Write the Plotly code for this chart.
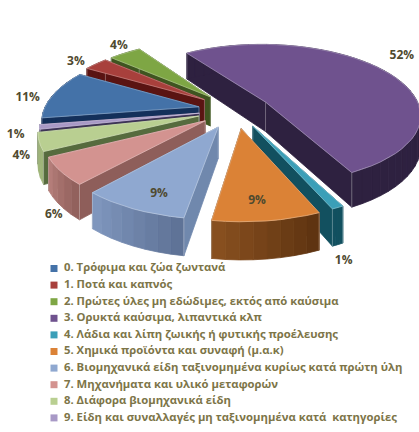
import math
import plotly.graph_objects as go

categories = ["0. Τρόφιμα και ζώα ζωντανά", "1. Ποτά και καπνός",
              "2. Πρώτες ύλες μη εδώδιμες, εκτός από καύσιμα",
              "3. Ορυκτά καύσιμα, λιπαντικά κλπ",
              "4. Λάδια και λίπη ζωικής ή φυτικής προέλευσης",
              "5. Χημικά προϊόντα και συναφή (μ.α.κ)",
              "6. Βιομηχανικά είδη ταξινομημένα κυρίως κατά πρώτη ύλη",
              "7. Μηχανήματα και υλικό μεταφορών",
              "8. Διάφορα βιομηχανικά είδη",
              "9. Είδη και συναλλαγές μη ταξινομημένα κατά  κατηγορίες"]
values = [11, 3, 4, 52, 1, 9, 9, 6, 4, 1]

top_colors = ["#4472a8", "#a8403c", "#7ea644", "#6f528e", "#3b9fb8",
              "#db8236", "#8fa8d0", "#d39390", "#b9cf91", "#a899c6"]
radial_colors = ["#14305a", "#5a1412", "#3f5520", "#2e2140", "#12505f",
                 "#6a3a12", "#7088ad", "#8e5e5a", "#566b3e", "#3d3357"]
outer_left = ["#14305a", "#5a1412", "#3f5520", "#2e2140", "#12505f",
              "#8a5120", "#8199c0", "#b8807c", "#9fb57a", "#8d80ab"]
outer_right = ["#14305a", "#5a1412", "#3f5520", "#2e2140", "#12505f",
               "#5c3210", "#5d7094", "#8e5e5a", "#9fb57a", "#8d80ab"]
pulls = [38, 40, 40, 35, 38, 40, 40, 38, 39, 37]
label_dx = [-26, -20, -6, 18, 6, -10, 26, -7, -18, -24]
label_dy = [4, -2, -7, -15, 53, -20, -15, 44, 14, 8]

ROT, R, K, Q, H = 261.0, 155.0, 70.0, 0.17, 30.0
CX, CY = 236.0, 110.0


def project(theta, r, pull, mid, drop=0.0):
    u = pull * math.sin(mid) + r * math.sin(theta)
    v = pull * math.cos(mid) + r * math.cos(theta)
    s = 1 / (1 + Q * v / R)
    return CX + u * s, CY - (K / R) * v * s + drop * s


def mix(a, b, t):
    ca = [int(a[i:i + 2], 16) for i in (1, 3, 5)]
    cb = [int(b[i:i + 2], 16) for i in (1, 3, 5)]
    return "rgb(%d,%d,%d)" % tuple(round(x + (y - x) * t) for x, y in zip(ca, cb))


fig = go.Figure()


def poly(points, color, line=None):
    closed = list(points) + [points[0]]
    fig.add_trace(go.Scatter(x=[p[0] for p in closed], y=[p[1] for p in closed],
                             mode="lines", fill="toself", fillcolor=color,
                             line=dict(color=line or color, width=0.8),
                             hoverinfo="skip", showlegend=False))


def edge(a, b, color):
    fig.add_trace(go.Scatter(x=[a[0], b[0]], y=[a[1], b[1]], mode="lines",
                             line=dict(color=color, width=0.8),
                             hoverinfo="skip", showlegend=False))


total = sum(values)
slices, cum = [], 0
for i, val in enumerate(values):
    a0 = math.radians(ROT + cum / total * 360)
    cum += val
    a1 = math.radians(ROT + cum / total * 360)
    slices.append((i, a0, a1, (a0 + a1) / 2))

for i, a0, a1, mid in sorted(slices, key=lambda t: -math.cos(t[3])):
    p = pulls[i]
    n = max(3, int((a1 - a0) / math.radians(4)))
    arc = [a0 + (a1 - a0) * j / n for j in range(n + 1)]
    for a in (a0, a1):
        poly([project(a, 0, p, mid), project(a, R, p, mid),
              project(a, R, p, mid, H), project(a, 0, p, mid, H)], radial_colors[i])
    for j in range(n):
        t = (j + 0.5) / n
        poly([project(arc[j], R, p, mid), project(arc[j + 1], R, p, mid),
              project(arc[j + 1], R, p, mid, H), project(arc[j], R, p, mid, H)],
             mix(outer_right[i], outer_left[i], t))
    highlight = mix(radial_colors[i], "#ffffff", 0.4)
    edge(project(a0, 0, p, mid), project(a0, 0, p, mid, H), highlight)
    for a in (a0, a1):
        edge(project(a, R, p, mid), project(a, R, p, mid, H), highlight)
    poly([project(a0, 0, p, mid)] + [project(a, R, p, mid) for a in arc],
         top_colors[i], line=mix(top_colors[i], "#ffffff", 0.35))

lab = [project(mid, R, pulls[i], mid) for i, a0, a1, mid in slices]
fig.add_trace(go.Scatter(x=[q[0] + d for q, d in zip(lab, label_dx)],
                         y=[q[1] + d for q, d in zip(lab, label_dy)], mode="text",
                         text=["%d%%" % v for v in values],
                         textfont=dict(family="Open Sans", size=12, color="#4f4a2f", weight="bold"),
                         hoverinfo="skip", showlegend=False))

LEG_X, LEG_Y, LEG_STEP = 54, 268.5, 16.6
ys = [LEG_Y + j * LEG_STEP for j in range(len(categories))]
fig.add_trace(go.Scatter(x=[LEG_X] * len(categories), y=ys, mode="markers",
                         marker=dict(symbol="square", size=7, color=top_colors),
                         hoverinfo="skip", showlegend=False))
fig.add_trace(go.Scatter(x=[LEG_X + 10] * len(categories), y=ys, mode="text",
                         text=categories, textposition="middle right",
                         textfont=dict(family="Open Sans", size=11.3, color="#7d7548", weight="bold"),
                         hoverinfo="skip", showlegend=False))

fig.update_layout(width=419, height=432, margin=dict(l=0, r=0, t=0, b=0),
                  paper_bgcolor="white", plot_bgcolor="white", showlegend=False,
                  xaxis=dict(range=[0, 419], visible=False, fixedrange=True),
                  yaxis=dict(range=[432, 0], visible=False, fixedrange=True))
fig.write_html("out.html", config={"displayModeBar": False},
               post_script="document.body.style.margin='0';document.body.style.overflow='hidden';")
